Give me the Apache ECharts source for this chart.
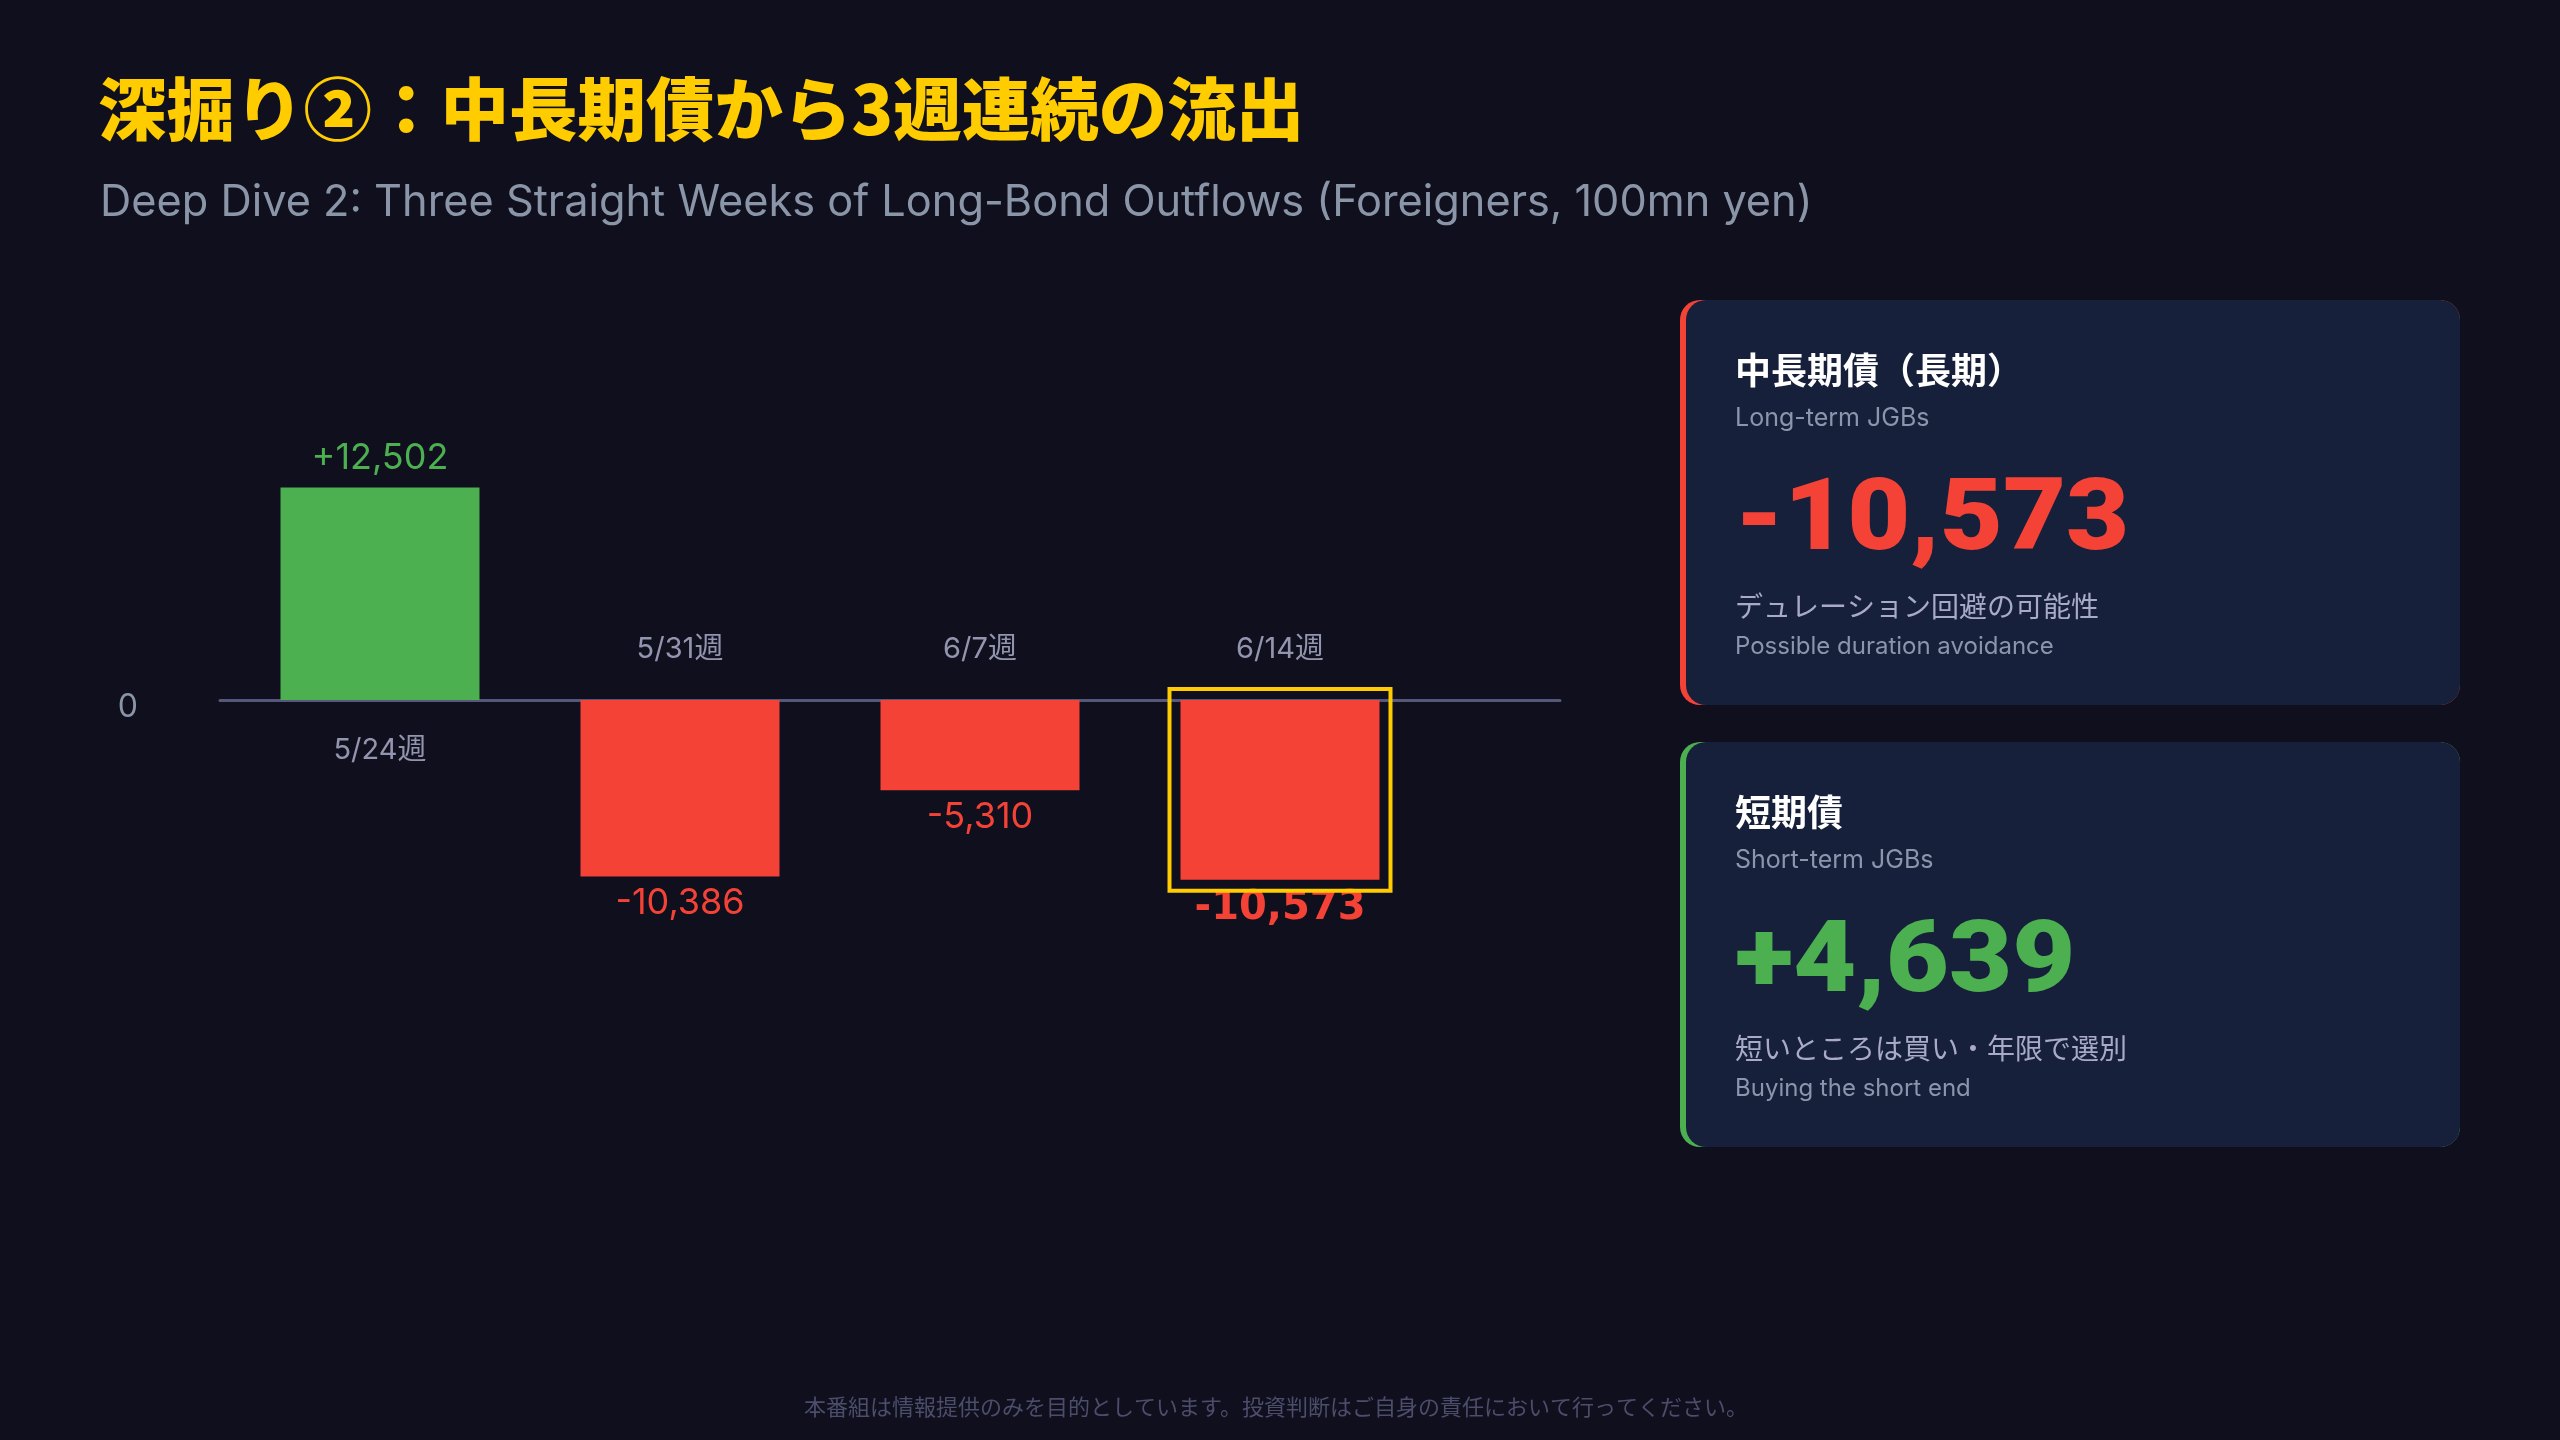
<!DOCTYPE html>
<html lang="ja">
<head>
<meta charset="utf-8">
<title>深掘り②：中長期債から3週連続の流出</title>
<script src="https://cdn.jsdelivr.net/npm/echarts@6/dist/echarts.min.js"></script>
<style>
  html, body { margin: 0; padding: 0; background: #0f0f1e; }
  #chart { width: 2560px; height: 1440px; }
</style>
</head>
<body>
<div id="chart"></div>
<script>
// weekly foreign net flows into long-term JGBs (100mn yen)
const weeks = ["5/24週", "5/31週", "6/7週", "6/14週"];
const flows = [12502, -10386, -5310, -10573];
const highlightWeek = "6/14週";
const yTicks = [0];

// side cards
const cardTitles = ["中長期債（長期）", "短期債"];
const cardSubtitles = ["Long-term JGBs", "Short-term JGBs"];
const cardValues = [-10573, 4639];
const cardNotesJa = ["デュレーション回避の可能性", "短いところは買い・年限で選別"];
const cardNotesEn = ["Possible duration avoidance", "Buying the short end"];

const GREEN = "#4caf50";
const RED = "#f44336";
const GOLD = "#ffcc00";
const LATIN = "Inter, 'Noto Sans CJK JP', sans-serif";
const CJK = "'Noto Sans CJK JP', Inter, sans-serif";
const BAR_W = 199;

function signed(v) {
  return (v > 0 ? "+" : "") + v.toLocaleString("en-US");
}

const barData = flows.map((v, i) => {
  const hi = weeks[i] === highlightWeek;
  return {
    value: [i, v],
    itemStyle: { color: v >= 0 ? GREEN : RED },
    label: {
      position: v >= 0 ? "top" : "bottom",
      distance: v >= 0 ? 11 : 9,
      color: v >= 0 ? GREEN : RED,
      fontSize: hi ? 40 : 36,
      fontWeight: hi ? "bold" : 400,
      fontFamily: hi ? "'DejaVu Sans', sans-serif" : LATIN
    }
  };
});

// week names sit on the opposite side of the zero line
const weekLabelData = flows.map((v, i) => ({
  value: [i, 0],
  name: weeks[i],
  label: { position: v >= 0 ? "bottom" : "top" }
}));

const highlightData = flows
  .map((v, i) => [i, v])
  .filter((d) => weeks[d[0]] === highlightWeek);

function cardGraphics(i, top, accent) {
  const left = 1680, w = 780, h = 405, tx = 1735;
  const valueColor = cardValues[i] >= 0 ? GREEN : RED;
  return [
    { type: "rect", shape: { x: left, y: top, width: w, height: h, r: 20 }, style: { fill: accent } },
    { type: "rect", shape: { x: left + 6, y: top, width: w - 6, height: h, r: 20 }, style: { fill: "#16203b" } },
    { type: "text", x: tx, y: top + 70, style: { text: cardTitles[i], fill: "#ffffff", font: "bold 36px " + CJK, verticalAlign: "middle" } },
    { type: "text", x: tx, y: top + 118, style: { text: cardSubtitles[i], fill: "#8a96ab", font: "25px " + LATIN, verticalAlign: "middle" } },
    { type: "text", x: tx, y: top + 224, scaleX: 1.09, style: { text: signed(cardValues[i]), fill: valueColor, font: "900 100px Roboto, Inter, sans-serif", verticalAlign: "middle" } },
    { type: "text", x: tx, y: top + 306, style: { text: cardNotesJa[i], fill: "#a9aac8", font: "28px " + CJK, verticalAlign: "middle" } },
    { type: "text", x: tx, y: top + 347, style: { text: cardNotesEn[i], fill: "#8a96ab", font: "24px " + LATIN, verticalAlign: "middle" } }
  ];
}

const chart = echarts.init(document.getElementById("chart"));
chart.setOption({
  backgroundColor: "#0f0f1e",
  animation: false,
  title: [
    {
      text: "深掘り②：中長期債から3週連続の流出",
      left: 98, top: 75, padding: 0,
      textStyle: { color: GOLD, fontSize: 68.5, fontWeight: 900, fontFamily: CJK }
    },
    {
      text: "Deep Dive 2: Three Straight Weeks of Long-Bond Outflows (Foreigners, 100mn yen)",
      left: 100, top: 181, padding: 0,
      textStyle: { color: "#8a96a8", fontSize: 43.3, fontWeight: 400, fontFamily: LATIN }
    }
  ],
  grid: { left: 220, right: 1000, top: 445, height: 510 },
  xAxis: {
    type: "value",
    min: -0.5333,
    max: 3.9333,
    axisLine: { show: true, onZero: true, lineStyle: { color: "#55587a", width: 3 } },
    axisTick: { show: false },
    axisLabel: { show: false },
    splitLine: { show: false }
  },
  yAxis: {
    type: "value",
    min: -15000,
    max: 15000,
    interval: 15000,
    axisLine: { show: false },
    axisTick: { show: false },
    splitLine: { show: false },
    axisLabel: {
      margin: 82,
      formatter: (v) => (yTicks.includes(v) ? "{z|" + v + "}" : ""),
      rich: {
        z: { color: "#8a96a8", fontSize: 32, fontFamily: LATIN, padding: [14, 0, 0, 0] }
      }
    }
  },
  series: [
    {
      type: "bar",
      data: barData,
      barWidth: BAR_W,
      label: { show: true, formatter: (p) => signed(p.value[1]) },
      z: 2
    },
    {
      type: "scatter",
      data: weekLabelData,
      symbolSize: 0,
      silent: true,
      label: {
        show: true,
        distance: 36,
        formatter: (p) => p.name,
        color: "#b4b6d2",
        fontSize: 29,
        fontFamily: LATIN
      },
      z: 3
    },
    {
      type: "custom",
      data: highlightData,
      silent: true,
      z: 4,
      renderItem(params, api) {
        const base = api.coord([api.value(0), 0]);
        const end = api.coord([api.value(0), api.value(1)]);
        const pad = 11;
        const half = BAR_W / 2 + pad;
        return {
          type: "rect",
          shape: {
            x: base[0] - half,
            y: Math.min(base[1], end[1]) - pad,
            width: half * 2,
            height: Math.abs(end[1] - base[1]) + pad * 2
          },
          style: { fill: "none", stroke: GOLD, lineWidth: 4 }
        };
      }
    }
  ],
  graphic: [
    ...cardGraphics(0, 300, RED),
    ...cardGraphics(1, 742, GREEN),
    {
      type: "text",
      x: 1276, y: 1407,
      style: {
        text: "本番組は情報提供のみを目的としています。投資判断はご自身の責任において行ってください。",
        fill: "#4b4d6b",
        font: "22px " + CJK,
        align: "center",
        verticalAlign: "middle"
      }
    }
  ]
});

window.addEventListener("resize", () => chart.resize());
</script>
</body>
</html>
